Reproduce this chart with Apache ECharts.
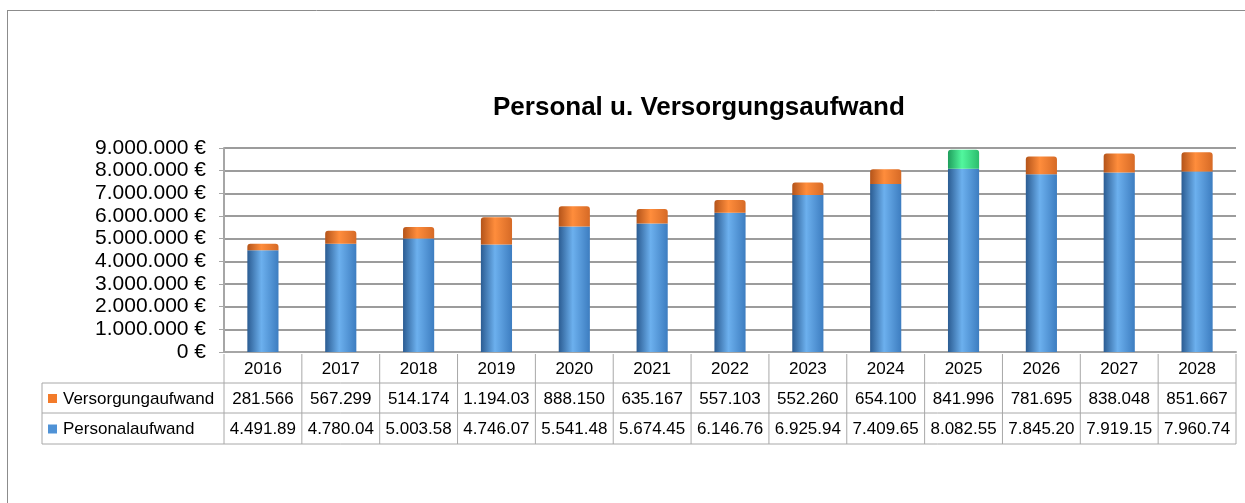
<!DOCTYPE html>
<html>
<head>
<meta charset="utf-8">
<script src="https://cdn.jsdelivr.net/npm/echarts@6/dist/echarts.min.js"></script>
<style>
  html, body { margin: 0; padding: 0; background: #fff; }
  #chart { width: 1245px; height: 503px; }
</style>
</head>
<body>
<div id="chart"></div>
<script>
const years = ["2016", "2017", "2018", "2019", "2020", "2021", "2022", "2023", "2024", "2025", "2026", "2027", "2028"];
const personalaufwand = [4491890, 4780040, 5003580, 4746070, 5541480, 5674450, 6146760, 6925940, 7409650, 8082550, 7845200, 7919150, 7960740];
const versorgungaufwand = [281566, 567299, 514174, 1194030, 888150, 635167, 557103, 552260, 654100, 841996, 781695, 838048, 851667];
const yTicks = [0, 1000000, 2000000, 3000000, 4000000, 5000000, 6000000, 7000000, 8000000, 9000000];
const highlightYear = "2025";

const GRID_LEFT = 224, GRID_RIGHT = 9, GRID_TOP = 148, GRID_BOTTOM = 352;

function fmtDe(v) {
  return String(Math.round(v)).replace(/\B(?=(\d{3})+(?!\d))/g, ".");
}
// the table cells in the original cut numbers off at 8 characters
function cellText(v) {
  return fmtDe(v).slice(0, 8);
}

const cyl = (a, b, c) => new echarts.graphic.LinearGradient(0, 0, 1, 0, [
  { offset: 0, color: a }, { offset: 0.45, color: b }, { offset: 1, color: c }
]);
const blueFill = cyl("#2b5c92", "#6cb0ee", "#3d7dc0");
const orangeFill = cyl("#b4541a", "#ff8d3c", "#d66a26");
const greenFill = cyl("#1f9e5c", "#52f79e", "#2cbd6d");

const chart = echarts.init(document.getElementById("chart"));

const option = {
  animation: false,
  backgroundColor: "#fff",
  title: {
    text: "Personal u. Versorgungsaufwand",
    left: 488,
    top: 90,
    textStyle: { fontFamily: "Liberation Sans, Arial", fontSize: 26, fontWeight: "bold", color: "#000" }
  },
  grid: { left: GRID_LEFT, right: GRID_RIGHT, top: GRID_TOP, bottom: 503 - GRID_BOTTOM },
  xAxis: {
    type: "category",
    data: years,
    axisLine: { lineStyle: { color: "#a6a6a6", width: 2 } },
    axisTick: { show: false },
    axisLabel: { show: false }
  },
  yAxis: {
    type: "value",
    min: yTicks[0],
    max: yTicks[yTicks.length - 1],
    interval: 1000000,
    axisLine: { show: true, lineStyle: { color: "#a6a6a6", width: 2 } },
    axisTick: { show: true, length: 5, lineStyle: { color: "#a6a6a6" } },
    splitLine: { lineStyle: { color: "#9c9c9c", width: 2 } },
    axisLabel: {
      margin: 18,
      fontFamily: "Liberation Sans, Arial",
      fontSize: 21,
      color: "#000",
      formatter: v => fmtDe(v) + " \u20ac"
    }
  },
  series: [
    {
      name: "Personalaufwand",
      type: "bar",
      stack: "total",
      barWidth: "40%",
      data: personalaufwand,
      itemStyle: { color: blueFill }
    },
    {
      name: "Versorgungaufwand",
      type: "bar",
      stack: "total",
      barWidth: "40%",
      data: versorgungaufwand.map((v, i) => years[i] === highlightYear
        ? { value: v, itemStyle: { color: greenFill } }
        : v),
      itemStyle: { color: orangeFill, borderRadius: [3, 3, 0, 0] }
    }
  ]
};

chart.setOption(option);

// data table under the plot, aligned to the category axis
function buildTable() {
  const font = "17px Liberation Sans, Arial";
  const lineColor = "#a8a8a8";
  const left = 42;
  const right = 1245 - GRID_RIGHT;
  const yTop = GRID_BOTTOM + 2, r1 = 383, r2 = 413, r3 = 444;
  const halfStep = (right - GRID_LEFT) / years.length / 2;
  const els = [];
  const line = (x1, y1, x2, y2) => els.push({
    type: "line", shape: { x1, y1, x2, y2 }, style: { stroke: lineColor, lineWidth: 1 }
  });
  const text = (t, x, y, align) => els.push({
    type: "text", x, y, style: { text: t, font, fill: "#000", align: align || "center", verticalAlign: "middle" }
  });

  line(left, r1, right, r1);
  line(left, r2, right, r2);
  line(left, r3, right, r3);
  line(left, r1, left, r3);
  line(GRID_LEFT, yTop, GRID_LEFT, r3);

  years.forEach((y, i) => {
    const cx = chart.convertToPixel({ xAxisIndex: 0 }, y);
    line(cx + halfStep, yTop, cx + halfStep, r3);
    text(y, cx, (yTop + r1) / 2 + 1);
    text(cellText(versorgungaufwand[i]), cx, (r1 + r2) / 2 + 1);
    text(cellText(personalaufwand[i]), cx, (r2 + r3) / 2 + 1);
  });

  els.push({ type: "rect", shape: { x: 48, y: (r1 + r2) / 2 - 4, width: 9, height: 9 }, style: { fill: "#f37b2a" } });
  els.push({ type: "rect", shape: { x: 48, y: (r2 + r3) / 2 - 4, width: 9, height: 9 }, style: { fill: "#4f92d6" } });
  text("Versorgungaufwand", 63, (r1 + r2) / 2 + 1, "left");
  text("Personalaufwand", 63, (r2 + r3) / 2 + 1, "left");

  // frame of the chart area, only top and left edge are visible
  els.push({ type: "line", shape: { x1: 7, y1: 10.5, x2: 1245, y2: 10.5 }, style: { stroke: "#8c8c8c", lineWidth: 1 } });
  els.push({ type: "line", shape: { x1: 7.5, y1: 10, x2: 7.5, y2: 503 }, style: { stroke: "#8c8c8c", lineWidth: 1 } });

  chart.setOption({ graphic: els });
}

buildTable();
</script>
</body>
</html>
